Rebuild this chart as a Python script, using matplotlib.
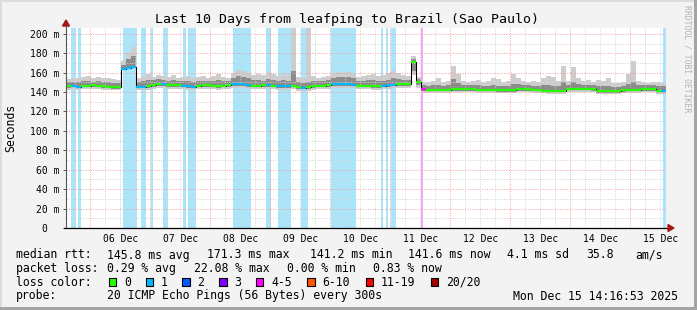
import numpy as np
import matplotlib
matplotlib.use("Agg")
import matplotlib.pyplot as plt
from matplotlib.patches import Rectangle, Polygon
from matplotlib.collections import LineCollection

W, H, DPI = 697, 310, 100
MONO = "DejaVu Sans Mono"

# ---------------- data ----------------
title = "Last 10 Days from leafping to Brazil (Sao Paulo)"
span_hours = 240
step_hours = 2
first_midnight_h = 9.7186          # Dec 6 00:00 relative to start (Dec 5 14:16:53)
day_labels = ["06 Dec", "07 Dec", "08 Dec", "09 Dec", "10 Dec",
              "11 Dec", "12 Dec", "13 Dec", "14 Dec", "15 Dec"]
y_ticks = [0, 20, 40, 60, 80, 100, 120, 140, 160, 180, 200]
y_tick_labels = ["0  ", "20 m", "40 m", "60 m", "80 m", "100 m", "120 m",
                 "140 m", "160 m", "180 m", "200 m"]

median_ms = [
    146, 146.5, 145.5, 146.5, 146.5, 147, 146.5, 146, 145.5, 145, 145,
    164, 165, 166,
    145.5, 145.5, 146, 147.5, 148, 148, 147.5, 147, 147,
    146.5, 146, 145.5, 146.5, 147, 147, 146.5, 146, 146.5, 147,
    148, 148.5, 148, 147.5, 146.5, 146.5, 147, 147, 146.5, 146, 146, 146, 146.5,
    145, 144.5, 145, 146, 146.5, 146.5, 147,
    148, 148, 148, 148, 147.5, 146.5, 146.5, 146.5, 146, 146, 146.5, 147, 147.5, 148, 148, 148,
    171, 150, 143,
    142.5, 142.5, 142.5, 142.5, 142.5,
    143.2, 143.2, 143.2, 143.2, 143.2,
    142.5, 142.5, 142.5, 142.5,
    141.8, 141.8, 141.8,
    142, 143, 143, 143, 142.2, 142.2, 141.5,
    141.2, 141.2, 141.2, 141.5,
    143.5, 143.5, 143.5, 143.5, 143.3, 143,
    140.8, 140.8, 140.8, 140.8, 141, 141.8,
    142.5, 142.5, 142.5, 143, 143, 143, 141.5, 141.6,
]

smoke_max = [
    153, 155, 154, 156, 157, 155, 156, 154, 155, 153, 152,
    172, 180, 186,
    155, 157, 159, 156, 158, 157, 156, 158, 155,
    156, 157, 155, 156, 157, 155, 157, 158.5, 156, 155,
    160, 163, 162, 160, 158, 159, 158, 160, 159, 157, 159, 158, 210,
    156, 155, 210, 157, 155, 156, 157,
    160, 161, 160, 161, 159, 156, 157, 158, 159, 157, 158, 160, 162, 160, 158, 157,
    177, 156, 150,
    150, 151, 154, 150, 151, 166.5, 159, 151, 150, 151, 152, 150, 151, 154, 153, 150,
    151, 159, 154, 151, 150, 151, 150, 155, 157, 156, 151, 166.5, 151, 166, 155, 151,
    152, 150, 152, 151, 155, 149, 149, 150, 159, 172.5, 151, 150, 149, 150, 150, 149,
]

smoke_hi = [
    150, 150.5, 150, 151, 151, 150.5, 151, 150, 150, 149.5, 149,
    168, 174, 177,
    150, 151, 152, 152, 153, 152, 151, 152, 151,
    151, 151, 150, 151, 151.5, 151, 151, 152, 151, 151,
    155, 157, 156, 154, 152, 152, 151.5, 153, 152, 151, 152, 151, 162,
    150, 149.5, 150, 151, 151, 151, 152,
    155, 156, 155.5, 156, 154, 151, 151, 152, 152, 151, 151.5, 152, 154, 153, 152, 152,
    174, 153, 147,
    146.5, 147, 147, 146.5, 147, 153, 149, 147, 147, 147, 147, 146.5, 146.5, 147, 146.5, 146,
    146, 148, 148, 147.5, 147, 146.5, 146.5, 147, 147, 146.5, 146, 150, 147.5, 150, 148, 147.5,
    147.5, 147, 146, 146, 146.5, 145.5, 145.5, 146, 148, 150, 147, 147, 147, 147, 146, 146,
]

smoke_lo = [
    144.5, 145, 144, 145, 145, 145.5, 145, 144.5, 144, 143.5, 143.5,
    163.5, 164.5, 165.5,
    144, 144, 144.5, 145.5, 146, 146, 145.5, 145, 145,
    145, 144.5, 144, 145, 145.5, 145.5, 145, 144.5, 145, 145.5,
    146, 146.5, 146, 145.5, 145, 145, 145.5, 145.5, 145, 144.5, 144.5, 144.5, 145,
    143.5, 143, 143.5, 144.5, 145, 145, 145.5,
    146, 146.5, 146.5, 146.5, 146, 145, 145, 145, 144.5, 144.5, 145, 145.5, 146, 146.5, 146.5, 146.5,
    162, 147, 141,
    141, 141, 141, 141, 141, 141.5, 141.5, 141.5, 141.5, 141.5, 141, 141, 141, 141, 140.5, 140.5,
    140.5, 140.5, 141.5, 141.5, 141.5, 141, 141, 140.5, 140, 140, 140, 140, 142, 142, 142, 142,
    142, 141.5, 139.5, 139.5, 139.5, 139.5, 139.5, 140.5, 141, 141, 141, 141.5, 141.5, 141.5, 140, 140,
]

smoke_min = [
    142.5, 143, 142.5, 143, 143, 143.5, 143, 142.5, 142, 142, 142,
    162.5, 163.5, 164.5,
    142, 142, 142.5, 143.5, 144, 144, 143.5, 143, 143,
    143, 142.5, 142, 143, 143.5, 143.5, 143, 142.5, 143, 143.5,
    144, 144.5, 144, 143.5, 143, 143, 143.5, 143.5, 143, 142.5, 142.5, 142.5, 143,
    141.5, 141, 141.5, 142.5, 143, 143, 143.5,
    144, 144.5, 144.5, 144.5, 144, 143, 143, 143, 142.5, 142.5, 143, 143.5, 144, 144.5, 144.5, 144.5,
    158, 144, 139,
    139.5, 139.5, 139.5, 139.5, 139.5, 140, 140, 140, 140, 140, 139.5, 139.5, 139.5, 139.5, 139, 139,
    139, 139, 140, 140, 140, 139.5, 139.5, 139, 138.5, 138.5, 138.5, 138.5, 140, 140, 140, 140,
    140, 140, 138, 138, 138, 138, 138, 139, 139.5, 139.5, 139.5, 140, 140, 140, 138.5, 138.5,
]

# pings lost (of 20) per step
loss_per_step = [
    0, 1, 1, 0, 0, 0, 0, 0, 0, 0,
    0, 1, 1, 1, 1, 1, 0, 0, 0, 1,
    0, 0, 0, 1, 1, 1, 0, 0, 0, 0,
    0, 0, 0, 1, 1, 1, 1, 0, 0, 0,
    1, 0, 1, 1, 1, 0, 0, 1, 0, 0,
    0, 0, 0, 1, 1, 1, 1, 1, 0, 0,
    0, 0, 0, 1, 1, 1, 0, 0, 0, 0,
    0, 5, 0, 0, 0, 0, 0, 0, 0, 0,
    0, 0, 0, 0, 0, 0, 0, 0, 0, 0,
    0, 0, 0, 0, 0, 0, 0, 0, 0, 0,
    0, 0, 0, 0, 0, 0, 0, 0, 0, 0,
    0, 0, 0, 0, 0, 0, 0, 0, 0, 1,
]

# loss background stripes (hours from start)
band_start = [2.0, 4.68, 22.8, 30.0, 33.8, 38.8, 46.8, 48.8, 66.8, 80.0, 84.92,
              94.0, 106.0, 126.0, 128.0, 130.0, 142.0, 238.68]
band_end = [4.0, 6.0, 28.52, 32.0, 34.6, 40.68, 48.0, 51.88, 74.0, 81.88, 90.0,
            96.8, 115.88, 126.92, 128.92, 131.88, 142.8, 240.0]
band_loss = [1, 1, 1, 1, 1, 1, 1, 1, 1, 1, 1, 1, 1, 1, 1, 1, 5, 1]

loss_legend_labels = ["0", "1", "2", "3", "4-5", "6-10", "11-19", "20/20"]
loss_legend_colors = ["#26ff00", "#00b8ff", "#0059ff", "#7e00ff",
                      "#ff00ff", "#ff5500", "#ff0000", "#a10000"]
line_color_by_loss = {0: "#26ff00", 1: "#00b8ff", 2: "#0059ff", 3: "#7e00ff",
                      5: "#ff00ff"}
band_color_by_loss = {1: "#aae5fa", 5: "#f6a6f6"}

rtt_stats = ["145.8 ms avg", "171.3 ms max", "141.2 ms min", "141.6 ms now",
             "4.1 ms sd", "35.8", "am/s"]
loss_stats = ["0.29 % avg", "22.08 % max", "0.00 % min", "0.83 % now"]
probe_text = "20 ICMP Echo Pings (56 Bytes) every 300s"
stamp_text = "Mon Dec 15 14:16:53 2025"

# ---------------- figure ----------------
fig = plt.figure(figsize=(W / DPI, H / DPI), dpi=DPI, facecolor="#f3f3f3")


def fx(x):
    return x / W


def fy(y):
    return 1 - y / H


# frame
fig.patches.append(Rectangle((0, fy(2)), 1, 2 / H, transform=fig.transFigure,
                             color="#dcdcdc", lw=0, zorder=0))
fig.patches.append(Rectangle((0, 0), 2 / W, 1, transform=fig.transFigure,
                             color="#dcdcdc", lw=0, zorder=0))
fig.patches.append(Rectangle((0, 0), 1, 3 / H, transform=fig.transFigure,
                             color="#a4a4a4", lw=0, zorder=0))
fig.patches.append(Rectangle((fx(694), 0), 3 / W, 1, transform=fig.transFigure,
                             color="#a4a4a4", lw=0, zorder=0))

L, R, T, B = 66, 666, 28, 228
ax = fig.add_axes([fx(L), fy(B), (R - L) / W, (B - T) / H])
ax.set_facecolor("white")
ax.set_xlim(0, span_hours)
ax.set_ylim(0, 206)
for s in ax.spines.values():
    s.set_visible(False)

# loss stripes
for s, e, l in zip(band_start, band_end, band_loss):
    ax.axvspan(s, e, color=band_color_by_loss[l], lw=0, zorder=1)

n = len(median_ms)
x_edges = np.arange(n + 1) * step_hours


def ext(a):
    a = list(a)
    return np.array(a + [a[-1]])


ax.fill_between(x_edges, ext(smoke_min), ext(smoke_max), step="post",
                color="#cdcdcd", lw=0, zorder=2)
ax.fill_between(x_edges, ext(smoke_lo), ext(smoke_hi), step="post",
                color="#8c8c8c", lw=0, zorder=2.1)

# grid (drawn above smoke)
gkw = dict(lw=0.7, dashes=(1, 1.5), zorder=3)
for v in range(10, 206, 10):
    ax.axhline(v, color="#f0a0a0" if v % 20 == 0 else "#d2d2d2", **gkw)
minor_t = np.arange(first_midnight_h - 6, span_hours, 6)
for t in minor_t:
    if t <= 0:
        continue
    is_major = abs(((t - first_midnight_h) / 24) - round((t - first_midnight_h) / 24)) < 1e-6
    ax.axvline(t, color="#f0a0a0" if is_major else "#d2d2d2", **gkw)

# median line
ax.step(x_edges, ext(median_ms), where="post", color="black", lw=0.75, zorder=4)
segs = [[(x_edges[i], median_ms[i]), (x_edges[i + 1], median_ms[i])] for i in range(n)]
cols = [line_color_by_loss[l] for l in loss_per_step]
ax.add_collection(LineCollection(segs, colors=cols, linewidths=1.6,
                                 capstyle="butt", zorder=5))

# ticks
ax.set_yticks(y_ticks)
ax.set_yticklabels(y_tick_labels)
label_pos = [first_midnight_h + 12 + 24 * k for k in range(len(day_labels))]
ax.set_xticks(label_pos)
ax.set_xticklabels(day_labels)
ax.tick_params(axis="y", length=2.5, width=0.7, color="#555555", pad=2,
               labelsize=7)
ax.tick_params(axis="x", length=0, pad=4.5, labelsize=7)
for lab in ax.get_xticklabels() + ax.get_yticklabels():
    lab.set_fontfamily(MONO)

# axes lines and arrows
fig.add_artist(plt.Line2D([fx(L), fx(L)], [fy(B), fy(24)], transform=fig.transFigure,
                          color="#555555", lw=0.8, zorder=6))
fig.add_artist(plt.Line2D([fx(L - 2), fx(670)], [fy(B), fy(B)], transform=fig.transFigure,
                          color="black", lw=0.9, zorder=6))
fig.patches.append(Polygon([(fx(L), fy(20)), (fx(L - 3.5), fy(26)), (fx(L + 3.5), fy(26))],
                           closed=True, transform=fig.transFigure, color="#a01818", zorder=7))
fig.patches.append(Polygon([(fx(674), fy(B)), (fx(668), fy(B - 3.5)), (fx(668), fy(B + 3.5))],
                           closed=True, transform=fig.transFigure, color="#a01818", zorder=7))

# texts
fig.text(fx(347), fy(19), title, ha="center", va="center", fontsize=9.5,
         family=MONO, color="black")
fig.text(fx(10.5), fy(128), "Seconds", rotation=90, ha="center", va="center",
         fontsize=8.3, family=MONO)
fig.text(fx(687), fy(5), "RRDTOOL / TOBI OETIKER", rotation=-90, ha="center",
         va="top", fontsize=5.9, family=MONO, color="#b4b4b4")

FS = 8.3
tk = dict(fontsize=FS, family=MONO, va="center", ha="left", color="black")
row1 = 255
fig.text(fx(16), fy(row1), "median rtt:", **tk)
for xp, s in zip([107.3, 207.3, 309.5, 408.3, 507.3, 586.7, 635], rtt_stats):
    fig.text(fx(xp), fy(row1), s, **tk)
row2 = 268.5
fig.text(fx(16), fy(row2), "packet loss:", **tk)
for xp, s in zip([107.3, 194, 286.7, 372.7], loss_stats):
    fig.text(fx(xp), fy(row2), s, **tk)
row3 = 282.3
fig.text(fx(16), fy(row3), "loss color:", **tk)
box_x = [108.7, 145.7, 182.3, 219, 255.7, 307.3, 365.7, 430.7]
for bx, lab, c in zip(box_x, loss_legend_labels, loss_legend_colors):
    fig.patches.append(Rectangle((fx(bx), fy(row3 + 4)), 7.5 / W, 8 / H,
                                 transform=fig.transFigure, facecolor=c,
                                 edgecolor="black", lw=0.8, zorder=5))
    fig.text(fx(bx + 15.3), fy(row3), lab, **tk)
row4 = 296
fig.text(fx(16), fy(row4), "probe:", **tk)
fig.text(fx(107.3), fy(row4), probe_text, **tk)
fig.text(fx(512.7), fy(row4), stamp_text, **tk)

fig.savefig("out.png", dpi=DPI, facecolor=fig.get_facecolor())
